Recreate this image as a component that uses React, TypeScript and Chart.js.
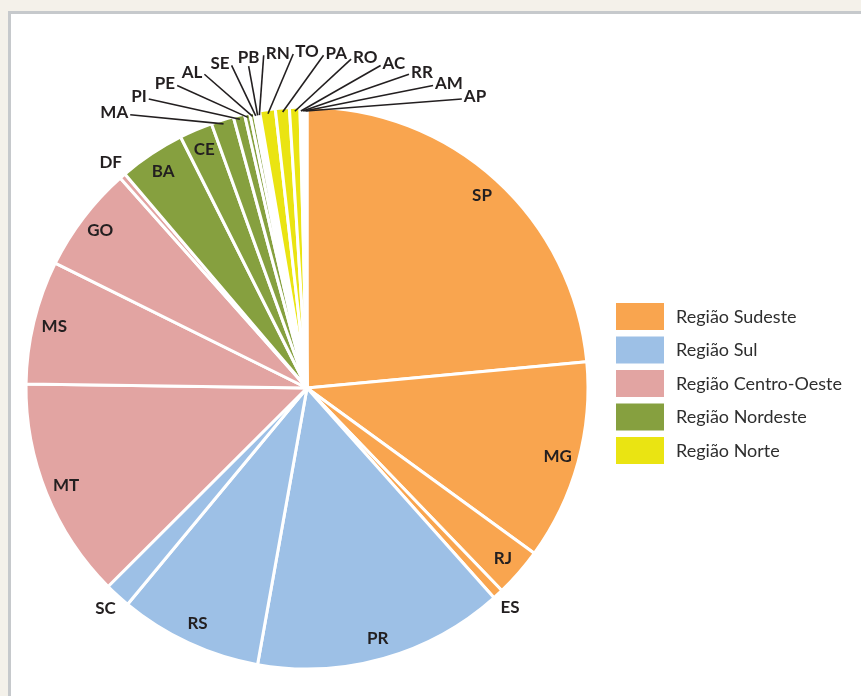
import React, { useEffect, useRef } from "react";
import { Chart, registerables } from "chart.js";

Chart.register(...registerables);

// ---- data ----
const states = ["SP", "MG", "RJ", "ES", "PR", "RS", "SC", "MT", "MS", "GO", "DF", "BA", "CE", "MA", "PI", "PE", "AL", "SE", "PB", "RN", "TO", "PA", "RO", "AC", "RR", "AM", "AP"];
const shares = [23.5, 11.5, 2.8, 0.6, 14.4, 8.2, 1.5, 12.7, 7.1, 6.1, 0.35, 3.8, 1.9, 1.3, 0.65, 0.3, 0.25, 0.12, 0.1, 0.1, 0.9, 0.8, 0.6, 0.1, 0.1, 0.1, 0.1];
const stateRegion = [0, 0, 0, 0, 1, 1, 1, 2, 2, 2, 2, 3, 3, 3, 3, 3, 3, 3, 3, 3, 4, 4, 4, 4, 4, 4, 4];
const regions = ["Região Sudeste", "Região Sul", "Região Centro-Oeste", "Região Nordeste", "Região Norte"];
const regionColors = ["#F9A54F", "#9DC0E6", "#E2A4A2", "#86A03F", "#EAE412"];
const insideLabels = ["SP", "MG", "RJ", "PR", "RS", "MT", "MS", "GO", "BA", "CE"];
const outsideLabels = ["ES", "SC", "DF"];
const fanLabels = ["MA", "PI", "PE", "AL", "SE", "PB", "RN", "TO", "PA", "RO", "AC", "RR", "AM", "AP"];

const labelFont = "bold 17px Lato, 'DejaVu Sans', sans-serif";
const legendFont = "18px Lato, 'DejaVu Sans', sans-serif";

const labelPlugin = {
  id: "stateLabels",
  afterDatasetsDraw(chart: any) {
    const ctx = chart.ctx;
    const meta = chart.getDatasetMeta(0);
    ctx.save();
    ctx.font = labelFont;
    ctx.fillStyle = "#231F20";
    ctx.textAlign = "center";
    ctx.textBaseline = "middle";
    meta.data.forEach((arc: any, i: number) => {
      const p = arc.getProps(["x", "y", "startAngle", "endAngle", "outerRadius"], true);
      const mid = (p.startAngle + p.endAngle) / 2;
      const name = states[i];
      if (insideLabels.includes(name)) {
        const r = p.outerRadius - 21;
        ctx.fillText(name, p.x + r * Math.cos(mid), p.y + r * Math.sin(mid));
      } else if (outsideLabels.includes(name)) {
        const r = p.outerRadius + 18;
        ctx.fillText(name, p.x + r * Math.cos(mid), p.y + r * Math.sin(mid));
      } else {
        const k = fanLabels.indexOf(name);
        if (k < 0) return;
        const theta = ((-35 + 5 * k) * Math.PI) / 180;
        const lr = 336;
        const lx = p.x + lr * Math.sin(theta);
        const ly = p.y - lr * Math.cos(theta);
        ctx.fillText(name, lx, ly);
        const w = ctx.measureText(name).width;
        const ar = p.outerRadius - 4;
        const ax = p.x + ar * Math.cos(mid);
        const ay = p.y + ar * Math.sin(mid);
        let tx, ty;
        if (ax < lx - w / 2) {
          tx = lx - w / 2 - 2;
          ty = ly + 2;
        } else if (ax > lx + w / 2) {
          tx = lx + w / 2 + 2;
          ty = ly + 2;
        } else {
          tx = lx;
          ty = ly + 9;
        }
        ctx.beginPath();
        ctx.strokeStyle = "#231F20";
        ctx.lineWidth = 1.6;
        ctx.moveTo(tx, ty);
        ctx.lineTo(ax, ay);
        ctx.stroke();
      }
    });
    ctx.restore();

    // legend
    ctx.save();
    ctx.font = legendFont;
    ctx.textBaseline = "middle";
    ctx.textAlign = "left";
    regions.forEach((reg, j) => {
      const top = 303 + j * 33.5;
      ctx.fillStyle = regionColors[j];
      ctx.fillRect(616, top, 48, 27);
      ctx.fillStyle = "#2E2E2E";
      ctx.fillText(reg, 676, top + 14);
    });
    ctx.restore();
  },
};

export default function App() {
  const ref = useRef<HTMLCanvasElement | null>(null);
  useEffect(() => {
    if (!ref.current) return;
    const chart = new Chart(ref.current, {
      type: "pie",
      data: {
        labels: states,
        datasets: [
          {
            data: shares,
            backgroundColor: stateRegion.map((r) => regionColors[r]),
            borderColor: "#FFFFFF",
            borderWidth: 3,
          },
        ],
      },
      options: {
        responsive: false,
        animation: false,
        radius: 281,
        layout: { padding: { left: 0, right: 247, top: 80, bottom: 0 } },
        plugins: {
          legend: { display: false },
          tooltip: { enabled: false },
          title: { display: false },
        },
      } as any,
      plugins: [labelPlugin],
    });
    return () => chart.destroy();
  }, []);

  return (
    <div style={{ position: "absolute", left: 0, top: 0, width: 861, height: 696, background: "#F4F1EA", overflow: "hidden" }}>
      <div
        style={{
          position: "absolute",
          left: 8,
          top: 11,
          width: 900,
          height: 760,
          background: "#FFFFFF",
          border: "3px solid #C6C9CC",
        }}
      />
      <canvas ref={ref} width={861} height={696} style={{ position: "absolute", left: 0, top: 0, width: 861, height: 696 }} />
    </div>
  );
}
